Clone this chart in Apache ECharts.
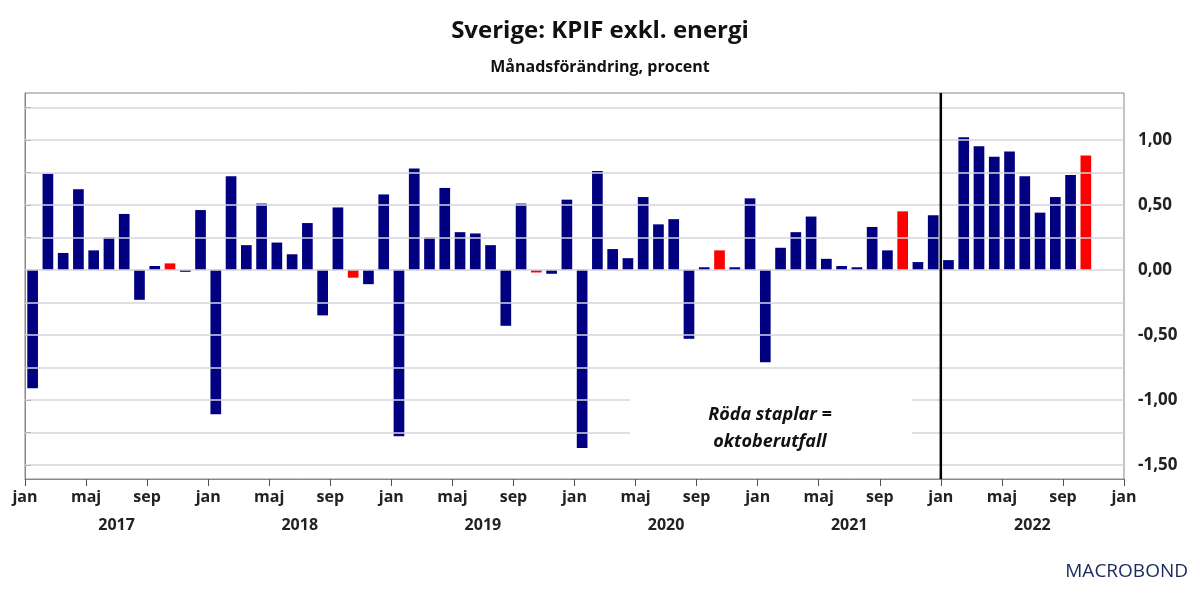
<!DOCTYPE html>
<html><head><meta charset="utf-8">
<script src="https://cdn.jsdelivr.net/npm/echarts@6/dist/echarts.min.js"></script>
<style>html,body{margin:0;padding:0;background:#fff}#c{width:1200px;height:600px}</style>
</head><body><div id="c"></div>
<script>
const years = ['2017','2018','2019','2020','2021','2022'];
const monthNames = ['jan','feb','mar','apr','maj','jun','jul','aug','sep','okt','nov','dec'];
const v2017 = [-0.91,0.74,0.13,0.62,0.15,0.25,0.43,-0.23,0.03,0.05,-0.015,0.46];
const v2018 = [-1.11,0.72,0.19,0.51,0.21,0.12,0.36,-0.35,0.48,-0.06,-0.11,0.58];
const v2019 = [-1.28,0.78,0.25,0.63,0.29,0.28,0.19,-0.43,0.51,-0.02,-0.03,0.54];
const v2020 = [-1.37,0.76,0.16,0.09,0.56,0.35,0.39,-0.53,0.02,0.15,0.02,0.55];
const v2021 = [-0.71,0.17,0.29,0.41,0.085,0.03,0.02,0.33,0.15,0.45,0.06,0.42];
const v2022 = [0.075,1.02,0.95,0.87,0.91,0.72,0.44,0.56,0.73,0.88,null,null];
const yTicks = [-1.5,-1.25,-1,-0.75,-0.5,-0.25,0,0.25,0.5,0.75,1,1.25];
const yLabels = [-1.5,-1,-0.5,0,0.5,1];
const xLabels = ['jan','maj','sep'];

const values = [].concat(v2017,v2018,v2019,v2020,v2021,v2022);
const cats = [];
years.forEach(y=>monthNames.forEach(m=>cats.push(m+' '+y)));
const font = 'Open Sans';
const chart = echarts.init(document.getElementById('c'));
chart.setOption({
  animation:false,
  title:[
    {text:'Sverige: KPIF exkl. energi',left:'center',top:14,textStyle:{fontFamily:font,fontSize:24,fontWeight:'bold',color:'#111'}},
    {text:'Månadsförändring, procent',left:'center',top:54,textStyle:{fontFamily:font,fontSize:16,fontWeight:'bold',color:'#111'}}
  ],
  grid:{left:25,right:76,top:93,bottom:121,show:true,borderColor:'#888',borderWidth:1},
  xAxis:[
    {type:'category',data:cats,boundaryGap:true,axisLine:{show:false},axisTick:{show:false},axisLabel:{show:false}},
    {type:'value',min:0,max:72,interval:4,position:'bottom',splitLine:{show:false},
      axisLine:{show:true,lineStyle:{color:'#888'}},axisTick:{show:true,length:7,lineStyle:{color:'#555'}},
      axisLabel:{fontFamily:font,fontSize:16,fontWeight:'bold',color:'#222',margin:10,
        formatter:v=>xLabels[(v/4)%3]}},
    {type:'value',min:0,max:72,interval:6,position:'bottom',offset:30,splitLine:{show:false},
      axisLine:{show:false},axisTick:{show:false},
      axisLabel:{fontFamily:font,fontSize:16,fontWeight:'bold',color:'#222',
        formatter:v=>(v/6)%2===1?years[(v-6)/12]:''}}
  ],
  yAxis:[{type:'value',position:'right',min:-1.608,max:1.36,
    splitLine:{show:false},
    axisLine:{show:true,lineStyle:{color:'#888'}},
    axisTick:{show:true,customValues:yTicks,length:6,lineStyle:{color:'#555'}},
    axisLabel:{customValues:yLabels,fontFamily:font,fontSize:17,fontWeight:'bold',color:'#222',margin:14,
      formatter:v=>v.toFixed(2).replace('.',',')}
  }],
  series:[
    {type:'line',xAxisIndex:1,data:[],z:1,zlevel:0,
      markLine:{silent:true,symbol:'none',label:{show:false},lineStyle:{color:'#d4d4dc',type:'solid',width:1.5},
        data:yTicks.map(t=>({yAxis:t}))}},
    {type:'bar',xAxisIndex:0,data:values,barCategoryGap:'30%',
      itemStyle:{color:p=>p.dataIndex%12===9?'#ff0000':'#000080'},z:3},
    {type:'line',xAxisIndex:1,data:[[60,-1.608],[60,1.36]],symbol:'none',lineStyle:{color:'#000',width:2.5},z:5}
  ],
  graphic:[
    {type:'rect',shape:{x:630,y:395,width:282,height:66},style:{fill:'#fff'},z:10},
    {type:'text',style:{x:770,y:415,text:'Röda staplar =',textAlign:'center',textVerticalAlign:'middle',fontFamily:font,fontSize:18,fontWeight:'bold',fontStyle:'italic',fill:'#111'},z:11},
    {type:'text',style:{x:770,y:442,text:'oktoberutfall',textAlign:'center',textVerticalAlign:'middle',fontFamily:font,fontSize:18,fontWeight:'bold',fontStyle:'italic',fill:'#111'},z:11},
    {type:'text',style:{x:1188,y:572,text:'MACROBOND',textAlign:'right',textVerticalAlign:'middle',fontFamily:font,fontSize:19,fill:'#1b2a5c'},z:11}
  ]
});
</script></body></html>
